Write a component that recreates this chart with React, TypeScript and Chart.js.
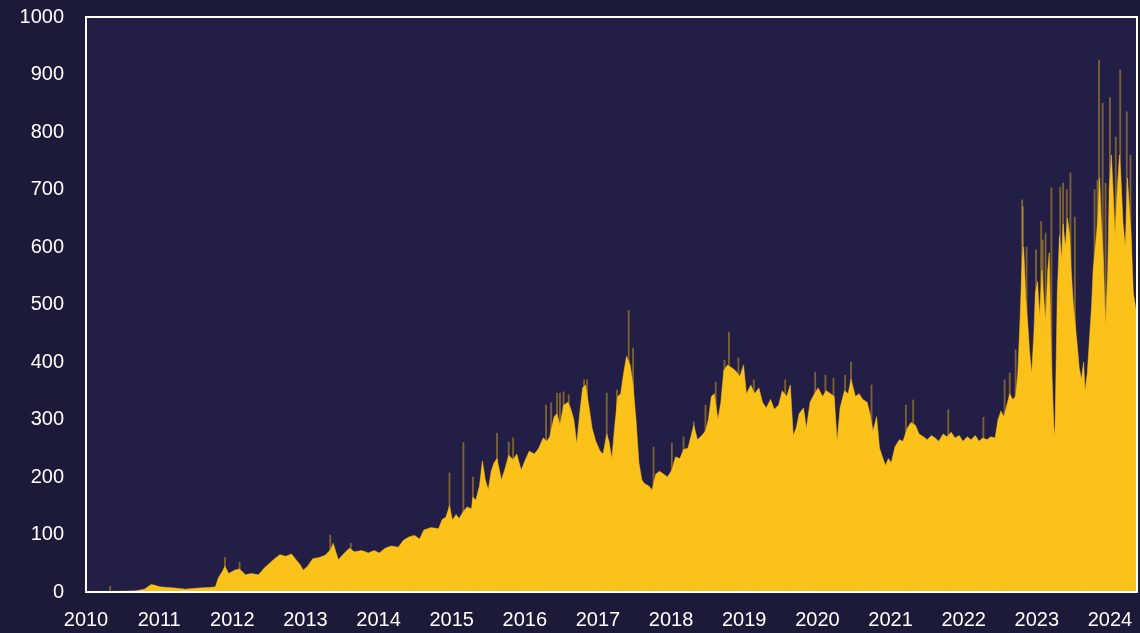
import React, { useEffect, useRef } from "react";
import { Chart, registerables } from "chart.js";

Chart.register(...registerables);

// Decimal-year positions and values of the main (solid) series
const dates: number[] = [
  2010.0, 2010.19, 2010.3, 2010.35, 2010.68, 2010.8, 2010.89, 2010.93, 2011.01, 2011.21,
  2011.36, 2011.54, 2011.69, 2011.77, 2011.81, 2011.86, 2011.9, 2011.95, 2012.03, 2012.1,
  2012.18, 2012.26, 2012.36, 2012.44, 2012.51, 2012.58, 2012.65, 2012.73, 2012.81, 2012.88,
  2012.93, 2012.97, 2013.03, 2013.1, 2013.19, 2013.27, 2013.34, 2013.38, 2013.45, 2013.52,
  2013.6, 2013.67, 2013.77, 2013.86, 2013.94, 2014.01, 2014.09, 2014.17, 2014.27, 2014.34,
  2014.42, 2014.5, 2014.56, 2014.62, 2014.72, 2014.82, 2014.87, 2014.92, 2014.97, 2015.01,
  2015.06, 2015.1, 2015.16, 2015.21, 2015.27, 2015.29, 2015.33, 2015.38, 2015.42, 2015.46,
  2015.5, 2015.54, 2015.58, 2015.62, 2015.68, 2015.73, 2015.78, 2015.84, 2015.89, 2015.95,
  2016.0, 2016.06, 2016.13, 2016.19, 2016.25, 2016.3, 2016.34, 2016.4, 2016.44, 2016.48,
  2016.53, 2016.59, 2016.63, 2016.67, 2016.71, 2016.75, 2016.79, 2016.83, 2016.88, 2016.92,
  2016.97, 2017.03, 2017.07, 2017.12, 2017.15, 2017.19, 2017.23, 2017.27, 2017.31, 2017.35,
  2017.39, 2017.44, 2017.48, 2017.52, 2017.56, 2017.6, 2017.64, 2017.69, 2017.74, 2017.79,
  2017.84, 2017.9, 2017.95, 2018.01, 2018.06, 2018.12, 2018.17, 2018.23, 2018.27, 2018.31,
  2018.36, 2018.42, 2018.47, 2018.51, 2018.55, 2018.59, 2018.64, 2018.68, 2018.72, 2018.77,
  2018.83, 2018.88, 2018.94, 2018.99, 2019.03, 2019.09, 2019.14, 2019.2, 2019.25, 2019.3,
  2019.36, 2019.41, 2019.47, 2019.52, 2019.58, 2019.63, 2019.67, 2019.71, 2019.75, 2019.81,
  2019.85, 2019.9, 2019.96, 2020.01, 2020.07, 2020.12, 2020.18, 2020.23, 2020.27, 2020.31,
  2020.37, 2020.42, 2020.46, 2020.52, 2020.57, 2020.62, 2020.68, 2020.72, 2020.76, 2020.81,
  2020.85, 2020.89, 2020.93, 2020.97, 2021.01, 2021.06, 2021.12, 2021.17, 2021.23, 2021.28,
  2021.34, 2021.39, 2021.45, 2021.5, 2021.56, 2021.61, 2021.66, 2021.72, 2021.77, 2021.83,
  2021.88, 2021.94, 2021.99, 2022.05, 2022.1, 2022.16, 2022.21, 2022.26, 2022.32, 2022.37,
  2022.43, 2022.47, 2022.51, 2022.55, 2022.59, 2022.63, 2022.67, 2022.71, 2022.74, 2022.77,
  2022.8, 2022.82, 2022.85, 2022.88, 2022.9, 2022.93, 2022.96, 2022.98, 2023.01, 2023.04,
  2023.07, 2023.09, 2023.12, 2023.15, 2023.17, 2023.2, 2023.23, 2023.24, 2023.25, 2023.28,
  2023.31, 2023.34, 2023.36, 2023.39, 2023.42, 2023.45, 2023.47, 2023.5, 2023.53, 2023.56,
  2023.58, 2023.61, 2023.64, 2023.66, 2023.69, 2023.72, 2023.75, 2023.77, 2023.8, 2023.83,
  2023.86, 2023.88, 2023.91, 2023.94, 2023.97, 2023.99, 2024.02, 2024.05, 2024.07, 2024.1,
  2024.13, 2024.15, 2024.18, 2024.21, 2024.24, 2024.26, 2024.29, 2024.32, 2024.37,
];

const values: number[] = [
  0, 1, 1, 1, 2, 5, 13, 12, 9, 7,
  5, 7, 8, 9, 25, 35, 45, 32, 38, 40,
  30, 32, 30, 42, 50, 58, 65, 62, 66, 55,
  47, 38, 45, 58, 60, 64, 73, 85, 56, 66,
  76, 70, 72, 68, 72, 68, 76, 80, 78, 90,
  96, 98, 92, 108, 112, 110, 126, 130, 150, 125,
  135, 128, 140, 148, 145, 165, 160, 185, 228, 195,
  178, 210, 225, 232, 195, 215, 238, 230, 240, 212,
  228, 245, 240, 250, 268, 262, 270, 305, 310, 290,
  325, 330, 318, 300, 258, 310, 355, 360, 320, 285,
  262, 245, 240, 275, 262, 232, 290, 340, 345, 380,
  410, 395, 360, 300, 225, 195, 188, 185, 178, 205,
  210, 205, 200, 212, 235, 232, 248, 250, 270, 290,
  265, 272, 280, 300, 340, 345, 300, 330, 385, 395,
  390, 385, 375, 395, 345, 360, 345, 355, 330, 320,
  335, 318, 325, 350, 340, 360, 272, 285, 310, 320,
  285, 330, 345, 355, 340, 350, 345, 340, 262, 320,
  350, 345, 370, 340, 345, 335, 330, 310, 280, 305,
  250, 235, 220, 232, 225, 252, 265, 262, 285, 295,
  290, 275, 270, 265, 272, 268, 262, 275, 270, 278,
  268, 272, 262, 270, 265, 272, 262, 268, 265, 270,
  268, 300, 315, 305, 325, 345, 335, 340, 380, 470,
  580, 600, 510, 460, 420, 380, 450, 520, 540, 480,
  560, 520, 470, 560, 590, 400, 300, 268, 290, 520,
  620, 580, 640, 600, 650, 620, 560, 500, 460, 420,
  390, 370, 400, 350, 380, 440, 500, 560, 600, 640,
  720, 650, 580, 460, 560, 700, 760, 680, 620, 700,
  760, 720, 640, 600, 720, 680, 620, 520, 480,
];

// Thin translucent spikes above the body
const spikeDates: number[] = [
  2010.33, 2011.9, 2012.1, 2013.34, 2013.62, 2014.47, 2014.97, 2015.16, 2015.29, 2015.62,
  2015.78, 2015.84, 2016.29, 2016.36, 2016.44, 2016.48, 2016.53, 2016.6, 2016.81, 2016.85,
  2017.12, 2017.26, 2017.42, 2017.48, 2017.76, 2018.01, 2018.17, 2018.31, 2018.47, 2018.61,
  2018.73, 2018.79, 2018.92, 2019.13, 2019.56, 2019.97, 2020.11, 2020.22, 2020.38, 2020.46,
  2020.74, 2021.21, 2021.31, 2021.79, 2022.27, 2022.56, 2022.63, 2022.71, 2022.8, 2022.81,
  2022.86, 2022.99, 2023.06, 2023.08, 2023.12, 2023.2, 2023.32, 2023.36, 2023.41, 2023.46,
  2023.52, 2023.79, 2023.83, 2023.85, 2023.9, 2023.94, 2024.0, 2024.08, 2024.14, 2024.23,
  2024.28,
];
const spikeValues: number[] = [
  10, 60, 52, 99, 85, 99, 207, 260, 200, 276,
  261, 268, 325, 329, 346, 346, 348, 343, 369, 369,
  346, 351, 490, 424, 252, 259, 270, 296, 325, 365,
  403, 452, 407, 369, 369, 382, 377, 372, 377, 400,
  360, 325, 334, 317, 304, 369, 381, 421, 682, 670,
  600, 595, 644, 612, 624, 703, 704, 711, 700, 729,
  652, 700, 716, 925, 850, 711, 860, 791, 908, 835,
  760,
];

const yTicks: number[] = [0, 100, 200, 300, 400, 500, 600, 700, 800, 900, 1000];
const xTicks: number[] = [2010, 2011, 2012, 2013, 2014, 2015, 2016, 2017, 2018, 2019, 2020, 2021, 2022, 2023, 2024];

const OUTER = "#1b1a38";
const INNER = "#221e46";
const YELLOW = "#fbc21a";

export default function App() {
  const ref = useRef<HTMLCanvasElement | null>(null);

  useEffect(() => {
    document.body.style.margin = "0";
    document.body.style.background = OUTER;
    const canvas = ref.current;
    if (!canvas) return;

    const bgPlugin = {
      id: "bgPlugin",
      beforeDraw(chart: any) {
        const { ctx, chartArea } = chart;
        ctx.save();
        ctx.fillStyle = OUTER;
        ctx.fillRect(0, 0, chart.width, chart.height);
        ctx.fillStyle = INNER;
        ctx.fillRect(chartArea.left, chartArea.top, chartArea.right - chartArea.left, chartArea.bottom - chartArea.top);
        ctx.restore();
      },
      afterDraw(chart: any) {
        const { ctx, chartArea } = chart;
        ctx.save();
        ctx.strokeStyle = "#ffffff";
        ctx.lineWidth = 2;
        ctx.strokeRect(chartArea.left, chartArea.top, chartArea.right - chartArea.left, chartArea.bottom - chartArea.top);
        ctx.restore();
      },
    };

    const chart = new Chart(canvas, {
      type: "line",
      data: {
        datasets: [
          {
            type: "line",
            data: dates.map((d, i) => ({ x: d, y: values[i] })),
            fill: "origin",
            backgroundColor: YELLOW,
            borderColor: YELLOW,
            borderWidth: 0.5,
            pointRadius: 0,
            tension: 0,
            order: 2,
          } as any,
          {
            type: "bar",
            data: spikeDates.map((d, i) => ({ x: d, y: spikeValues[i] })),
            backgroundColor: "rgba(251,194,26,0.42)",
            barThickness: 1.2,
            order: 1,
          } as any,
        ],
      },
      options: {
        animation: false,
        responsive: false,
        layout: { padding: { left: 0, top: 17, right: 3, bottom: 0 } },
        plugins: { legend: { display: false }, tooltip: { enabled: false } },
        scales: {
          x: {
            type: "linear",
            min: 2010,
            max: 2024.37,
            offset: false,
            grid: { display: false, drawTicks: false },
            border: { display: false },
            afterBuildTicks: (s: any) => {
              s.ticks = xTicks.map((v) => ({ value: v }));
            },
            afterFit: (s: any) => {
              s.height = 41;
              s.paddingLeft = 0;
              s.paddingRight = 0;
            },
            ticks: {
              color: "#ffffff",
              font: { family: "Liberation Sans, Arial, sans-serif", size: 20 },
              padding: 16,
              maxRotation: 0,
              autoSkip: false,
              callback: (v: any) => String(v),
            },
          },
          y: {
            type: "linear",
            min: 0,
            max: 1000,
            grid: { display: false, drawTicks: false },
            border: { display: false },
            afterBuildTicks: (s: any) => {
              s.ticks = yTicks.map((v) => ({ value: v }));
            },
            afterFit: (s: any) => {
              s.width = 86;
              s.paddingTop = 0;
              s.paddingBottom = 0;
            },
            ticks: {
              color: "#ffffff",
              font: { family: "Liberation Sans, Arial, sans-serif", size: 20 },
              padding: 22,
              callback: (v: any) => String(v),
            },
          },
        },
      },
      plugins: [bgPlugin],
    });

    return () => chart.destroy();
  }, []);

  return (
    <div style={{ width: 1140, height: 633, background: OUTER }}>
      <canvas ref={ref} width={1140} height={633} style={{ display: "block" }} />
    </div>
  );
}
